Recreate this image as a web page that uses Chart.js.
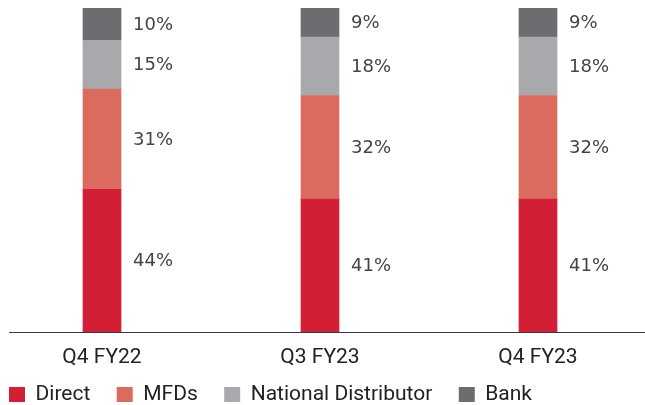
<!DOCTYPE html>
<html lang="en">
<head>
<meta charset="UTF-8">
<title>Channel mix</title>
<style>
  html, body { margin: 0; padding: 0; background: #fff; overflow: hidden; }
  #wrap { position: relative; width: 645px; height: 405px; overflow: hidden; }
  #mixChart { position: absolute; left: -8px; top: 0; }
</style>
</head>
<body>
<div id="wrap"><canvas id="mixChart" width="655" height="405"></canvas></div>
<script src="https://cdn.jsdelivr.net/npm/chart.js"></script>
<script>
const quarters = ['Q4 FY22', 'Q3 FY23', 'Q4 FY23'];
const direct = [44, 41, 41];
const mfds = [31, 32, 32];
const nationalDistributor = [15, 18, 18];
const bank = [10, 9, 9];

const FONT = 'Roboto, "Open Sans", sans-serif';

// percentage text to the right of each stacked segment
const sideLabels = {
  id: 'sideLabels',
  afterDatasetsDraw(chart) {
    const ctx = chart.ctx;
    ctx.save();
    ctx.font = '18px "DejaVu Sans", sans-serif';
    ctx.fillStyle = '#444';
    ctx.textBaseline = 'middle';
    ctx.textAlign = 'left';
    chart.data.datasets.forEach((ds, i) => {
      chart.getDatasetMeta(i).data.forEach((bar, j) => {
        const mid = (bar.y + bar.base) / 2;
        ctx.fillText(ds.data[j] + '%', bar.x + bar.width / 2 + 12, mid + 1);
      });
    });
    ctx.restore();
  }
};

// baseline under the bars
const baseLine = {
  id: 'baseLine',
  afterDatasetsDraw(chart) {
    const ctx = chart.ctx;
    const y = Math.round(chart.scales.y.getPixelForValue(0));
    ctx.save();
    ctx.strokeStyle = '#3a3a3a';
    ctx.lineWidth = 1;
    ctx.beginPath();
    ctx.moveTo(17, y + 0.5);
    ctx.lineTo(chart.width, y + 0.5);
    ctx.stroke();
    ctx.restore();
  }
};

// default legend items, with a little trailing room after each name
const legendItems = (chart) => {
  const items = Chart.defaults.plugins.legend.labels.generateLabels(chart);
  items.forEach(it => { it.text += '  '; });
  return items;
};

new Chart(document.getElementById('mixChart'), {
  type: 'bar',
  data: {
    labels: quarters,
    datasets: [
      { label: 'Direct', data: direct, backgroundColor: '#d21f36' },
      { label: 'MFDs', data: mfds, backgroundColor: '#dc6b5f' },
      { label: 'National Distributor', data: nationalDistributor, backgroundColor: '#a8a9ac' },
      { label: 'Bank', data: bank, backgroundColor: '#6c6d71' }
    ]
  },
  options: {
    responsive: false,
    animation: false,
    layout: { padding: { left: 1, right: 0, top: 8, bottom: -10 } },
    datasets: { bar: { barThickness: 38, borderWidth: 0 } },
    scales: {
      x: {
        stacked: true,
        grid: { display: false, drawTicks: false },
        border: { display: false },
        ticks: { color: '#222', font: { family: FONT, size: 21, lineHeight: 1 }, padding: 15 },
        afterFit(scale) { scale.height = 36; }
      },
      y: {
        stacked: true,
        display: false,
        min: 0,
        max: 100
      }
    },
    plugins: {
      tooltip: { enabled: false },
      legend: {
        position: 'bottom',
        align: 'start',
        labels: {
          boxWidth: 16,
          boxHeight: 15,
          padding: 16,
          color: '#222',
          font: { family: FONT, size: 21 },
          generateLabels: legendItems
        }
      }
    }
  },
  plugins: [sideLabels, baseLine]
});
</script>
</body>
</html>
